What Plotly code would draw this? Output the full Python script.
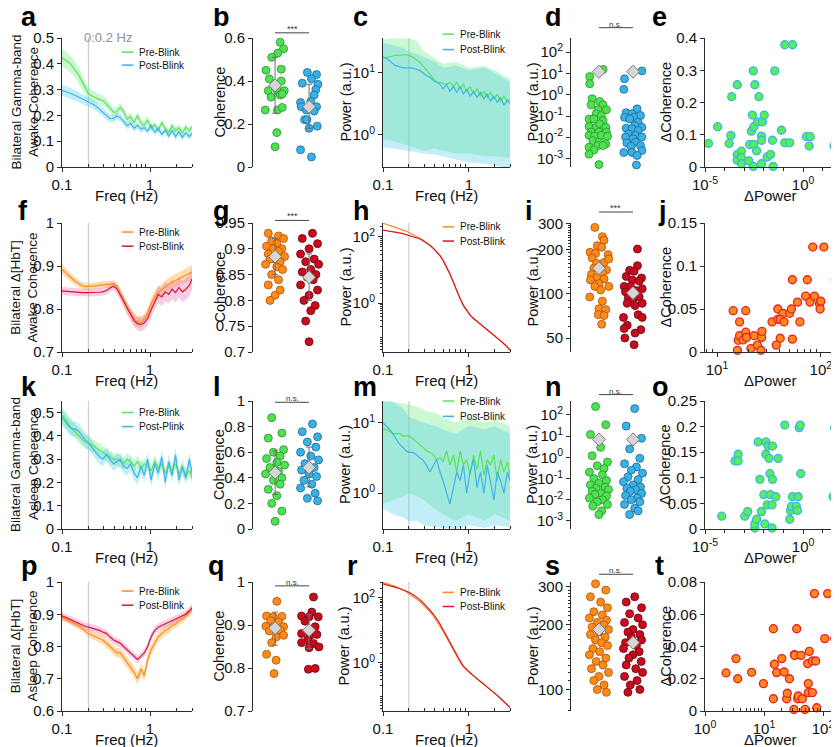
import plotly.graph_objects as go
from plotly.subplots import make_subplots

W, H = 839, 747          # browser window
PAD = 8                  # default page margin around the plot div
FW, FH = W - PAD, H - PAD
FONT = "Liberation Sans, Arial, Helvetica, sans-serif"
INK = "#2b2b2b"

# ---------------- data ----------------
freq = [0.100, 0.110, 0.120, 0.130, 0.140, 0.155, 0.170, 0.185, 0.200, 0.220,
        0.240, 0.265, 0.290, 0.320, 0.350, 0.385, 0.420, 0.460, 0.500, 0.550,
        0.600, 0.660, 0.720, 0.790, 0.860, 0.940, 1.03, 1.13, 1.24, 1.36,
        1.49, 1.63, 1.78, 1.95, 2.13, 2.33, 2.55, 2.80, 3.00]
band_freq = [0.1, 0.13, 0.17, 0.2, 0.25, 0.3, 0.4, 0.5, 0.7, 1.0, 1.5, 2.0, 3.0]
blink_f = 0.2

# a: gamma-band awake coherence
a_pre = [0.423, 0.415, 0.405, 0.392, 0.378, 0.356, 0.330, 0.305, 0.285, 0.275,
         0.268, 0.262, 0.258, 0.245, 0.228, 0.212, 0.214, 0.232, 0.215, 0.185,
         0.195, 0.172, 0.200, 0.170, 0.162, 0.182, 0.150, 0.163, 0.142, 0.172,
         0.150, 0.135, 0.160, 0.140, 0.152, 0.132, 0.155, 0.140, 0.155]
a_pre_err = [0.035, 0.034, 0.033, 0.032, 0.031, 0.030, 0.028, 0.026, 0.025, 0.024,
             0.022, 0.020, 0.020, 0.019, 0.018, 0.018, 0.018, 0.017, 0.017, 0.016,
             0.016, 0.016, 0.015, 0.015, 0.015, 0.015, 0.014, 0.014, 0.014, 0.014,
             0.014, 0.013, 0.013, 0.013, 0.013, 0.013, 0.013, 0.013, 0.013]
a_post = [0.297, 0.293, 0.288, 0.283, 0.278, 0.271, 0.265, 0.259, 0.253, 0.245,
          0.237, 0.225, 0.212, 0.200, 0.188, 0.188, 0.197, 0.192, 0.176, 0.160,
          0.170, 0.150, 0.162, 0.146, 0.152, 0.140, 0.160, 0.135, 0.150, 0.126,
          0.142, 0.120, 0.142, 0.118, 0.136, 0.115, 0.132, 0.118, 0.130]
a_post_err = [0.022, 0.022, 0.021, 0.021, 0.020, 0.020, 0.020, 0.019, 0.019, 0.018,
              0.018, 0.017, 0.017, 0.016, 0.016, 0.015, 0.015, 0.015, 0.015, 0.014,
              0.014, 0.014, 0.014, 0.014, 0.013, 0.013, 0.013, 0.013, 0.013, 0.013,
              0.013, 0.013, 0.013, 0.013, 0.013, 0.013, 0.013, 0.013, 0.013]

# b: gamma-band awake coherence per animal
b_pre = [0.58, 0.55, 0.53, 0.51, 0.45, 0.455, 0.41, 0.40, 0.355, 0.355,
         0.355, 0.325, 0.335, 0.34, 0.265, 0.265, 0.277, 0.16, 0.094]
b_pre_dx = [0.15, 0.25, 0.08, -0.10, -0.27, 0.18, -0.17, 0.18, -0.20, 0.07,
            0.27, -0.12, 0.15, 0.21, -0.29, 0.07, 0.21, 0.05, 0.0]
b_post = [0.44, 0.43, 0.41, 0.39, 0.385, 0.36, 0.335, 0.30, 0.305, 0.28,
          0.28, 0.265, 0.26, 0.22, 0.22, 0.18, 0.19, 0.08, 0.047]
b_post_dx = [-0.05, 0.22, 0.07, -0.20, 0.26, 0.20, 0.15, -0.25, 0.05, -0.23,
             0.22, -0.08, 0.15, -0.13, -0.06, 0.0, 0.24, -0.25, 0.07]
b_mean = [0.38, 0.28]
b_sd_lo = [0.25, 0.18]
b_sd_hi = [0.51, 0.385]

# c: gamma-band awake power
c_pre = [17, 17.5, 18, 18.5, 19, 19, 19.5, 19.5, 19, 18,
         16.5, 15, 13, 11, 9.5, 8, 7, 7, 6.8, 6.5,
         7, 6, 7, 5.5, 6.5, 5, 6, 4.5, 5.5, 4.2,
         5, 4, 4.8, 3.8, 4.5, 3.5, 4.2, 3.4, 3.8]
c_post = [18, 17, 15.5, 14, 13, 12.5, 12, 12, 12, 12,
          11.5, 11, 10, 9, 8.5, 7.5, 7, 6.5, 5.5, 6.5,
          5, 6, 4.8, 6, 4.5, 5.5, 4.2, 5, 4, 4.8,
          3.8, 4.5, 3.5, 4.2, 3.3, 4, 3, 3.6, 3.2]
c_pre_hi = [34, 36, 36, 36, 32, 22, 17, 14, 15, 12, 13, 11, 8]
c_pre_lo = [0.85, 0.8, 0.72, 0.67, 0.6, 0.55, 0.6, 0.55, 0.5, 0.5, 0.45, 0.45, 0.42]
c_post_hi = [30, 28, 25, 22, 20, 18, 15, 12, 13, 11, 12, 10, 7]
c_post_lo = [0.63, 0.6, 0.58, 0.55, 0.52, 0.5, 0.48, 0.45, 0.4, 0.36, 0.34, 0.32, 0.28]

# d: gamma-band awake power per animal
d_pre = [500, 15.5, 7.2, 3.3, 0.65, 0.49, 0.34, 0.34, 0.2, 0.2,
         0.13, 0.107, 0.074, 0.074, 0.063, 0.033, 0.030, 0.044, 0.030, 0.018,
         0.018, 0.018, 0.0126, 0.0115, 0.0126, 0.0115, 0.0072, 0.006, 0.005, 0.0042,
         0.0035, 0.0042, 0.0026, 0.00166, 0.00054]
d_pre_dx = [-0.27, 0.12, -0.27, -0.27, -0.20, 0.02, -0.23, 0.12, 0.22, -0.03,
            -0.08, 0.07, -0.29, -0.15, 0.12, -0.29, -0.08, 0.02, 0.20, -0.23,
            0.0, 0.22, -0.29, -0.13, 0.07, 0.25, -0.18, 0.0, 0.20, -0.03,
            -0.29, 0.12, -0.15, -0.29, 0.0]
d_post = [470, 13.2, 5.6, 1.8, 0.22, 0.145, 0.13, 0.107, 0.089, 0.089,
          0.074, 0.052, 0.036, 0.0275, 0.030, 0.0257, 0.0214, 0.0148, 0.0126, 0.0105,
          0.0105, 0.0087, 0.0056, 0.006, 0.0039, 0.0042, 0.002, 0.002, 0.00245, 0.00145,
          0.00052]
d_post_dx = [0.10, 0.26, -0.25, -0.27, 0.12, -0.20, -0.03, 0.22, -0.25, 0.02,
             -0.10, 0.15, 0.05, -0.20, 0.26, -0.03, 0.15, -0.13, 0.07, 0.26,
             -0.22, 0.0, -0.18, 0.07, -0.06, 0.22, -0.27, -0.03, 0.26, 0.12,
             0.10]
d_mean = [12, 12]

# e: delta coherence vs delta power (gamma, awake)
e_dpow = [1.5e-5, 4.4e-5, 2.1e-4, 1.7e-4, 2.3e-4, 4.4e-4, 4.4e-4, 7.2e-4, 7.2e-4, 7.2e-4,
          4.4e-4, 1.7e-3, 1.9e-3, 2.3e-3, 2.9e-3, 2.6e-3, 3.1e-3, 3.1e-3, 2.9e-3, 3.5e-3,
          4.3e-3, 4.8e-3, 5.6e-3, 7.6e-3, 7.6e-3, 8.5e-3, 0.0105, 7.6e-3, 0.0148, 0.022,
          0.0275, 0.0295, 0.036, 0.079, 0.117, 0.117, 0.29, 0.21, 1.48, 2.04,
          2.34, 38]
e_dcoh = [0.073, 0.125, 0.098, 0.073, 0.218, 0.039, 0.021, 0.049, 0.029, 0.010,
          0.255, 0.019, 0.070, 0.111, 0.298, 0.161, 0.125, 0.070, 0.002, 0.255,
          0.050, 0.140, 0.218, 0.096, 0.083, 0.140, 0.161, 0.010, 0.031, 0.039,
          0.083, 0.002, 0.298, 0.114, 0.075, 0.379, 0.379, 0.075, 0.094, 0.065,
          0.094, 0.065]

# f: HbT awake coherence
f_pre = [0.892, 0.885, 0.878, 0.871, 0.865, 0.859, 0.854, 0.852, 0.852, 0.853,
         0.854, 0.855, 0.856, 0.857, 0.858, 0.859, 0.853, 0.838, 0.822, 0.802,
         0.790, 0.777, 0.770, 0.770, 0.776, 0.790, 0.812, 0.828, 0.838, 0.846,
         0.852, 0.858, 0.862, 0.866, 0.870, 0.874, 0.878, 0.882, 0.886]
f_pre_err = [0.012, 0.011, 0.010, 0.010, 0.009, 0.009, 0.008, 0.008, 0.008, 0.008,
             0.008, 0.008, 0.008, 0.008, 0.008, 0.008, 0.009, 0.010, 0.011, 0.012,
             0.012, 0.013, 0.013, 0.013, 0.013, 0.013, 0.013, 0.014, 0.014, 0.014,
             0.014, 0.015, 0.015, 0.015, 0.016, 0.016, 0.016, 0.017, 0.017]
f_post = [0.842, 0.841, 0.840, 0.840, 0.839, 0.839, 0.838, 0.838, 0.838, 0.838,
          0.838, 0.839, 0.840, 0.843, 0.849, 0.853, 0.847, 0.832, 0.816, 0.800,
          0.786, 0.773, 0.766, 0.764, 0.768, 0.778, 0.798, 0.818, 0.834, 0.828,
          0.840, 0.834, 0.846, 0.838, 0.850, 0.840, 0.846, 0.855, 0.870]
f_post_err = [0.009, 0.009, 0.009, 0.009, 0.009, 0.009, 0.009, 0.009, 0.009, 0.009,
              0.009, 0.009, 0.009, 0.010, 0.010, 0.010, 0.011, 0.012, 0.013, 0.014,
              0.015, 0.015, 0.016, 0.016, 0.016, 0.017, 0.018, 0.019, 0.020, 0.021,
              0.022, 0.022, 0.023, 0.023, 0.024, 0.024, 0.025, 0.025, 0.025]

# g: HbT awake coherence per animal
g_pre = [0.93, 0.925, 0.92, 0.915, 0.91, 0.905, 0.90, 0.90, 0.895, 0.89,
         0.885, 0.88, 0.88, 0.875, 0.87, 0.865, 0.86, 0.85, 0.84, 0.83,
         0.82, 0.81, 0.80]
g_pre_dx = [-0.20, 0.10, 0.25, -0.10, 0.05, -0.25, 0.20, -0.05, 0.10, -0.20,
            0.28, 0.0, -0.15, 0.15, -0.28, 0.05, 0.22, -0.10, 0.10, -0.20,
            0.15, 0.0, -0.15]
g_post = [0.93, 0.92, 0.91, 0.90, 0.89, 0.88, 0.875, 0.87, 0.86, 0.855,
          0.85, 0.845, 0.84, 0.83, 0.82, 0.81, 0.80, 0.79, 0.78, 0.76, 0.72]
g_post_dx = [0.10, -0.20, 0.25, 0.0, -0.25, 0.15, -0.10, 0.28, 0.05, -0.20,
             0.20, -0.05, 0.12, -0.25, 0.25, 0.0, -0.15, 0.18, 0.05, -0.10, 0.0]
g_mean = [0.885, 0.845]
g_sd_lo = [0.85, 0.80]
g_sd_hi = [0.92, 0.89]

# h: HbT awake power
h_pre = [260, 240, 220, 205, 192, 178, 165, 150, 135, 120,
         105, 92, 80, 68, 56, 45, 35, 27, 19.5, 12.5,
         7.5, 4.2, 2.3, 1.35, 0.85, 0.6, 0.43, 0.34, 0.28, 0.23,
         0.19, 0.16, 0.135, 0.11, 0.09, 0.075, 0.06, 0.048, 0.04]
h_post = [160, 155, 150, 145, 140, 133, 125, 117, 110, 103,
          96, 88, 78, 67, 56, 45, 35, 27, 19.5, 12.5,
          7.5, 4.2, 2.3, 1.35, 0.85, 0.6, 0.43, 0.34, 0.28, 0.23,
          0.19, 0.16, 0.13, 0.105, 0.087, 0.072, 0.058, 0.046, 0.038]

# i: HbT awake power per animal
i_pre = [282, 244, 231, 212, 191, 188, 184, 207, 175, 163,
         172, 161, 150, 149, 145, 135, 138, 129, 124, 126,
         117, 112, 112, 106, 95, 89, 79, 78, 72, 71, 62]
i_pre_dx = [-0.12, 0.10, 0.15, -0.05, -0.26, -0.10, 0.27, 0.08, -0.20, 0.15,
            0.29, -0.07, 0.02, -0.15, 0.22, -0.22, 0.10, -0.07, -0.25, 0.15,
            0.0, 0.29, -0.12, 0.05, -0.27, 0.10, 0.0, 0.20, -0.02, 0.15, 0.08]
i_post = [201, 155, 144, 142, 131, 128, 124, 122, 112, 112,
          108, 105, 103, 94, 95, 92, 86, 83, 86, 72,
          69, 69, 61, 58, 57, 54, 50, 45, 40]
i_post_dx = [0.13, 0.13, -0.10, 0.03, -0.20, 0.25, -0.02, 0.18, -0.26, -0.07,
             0.27, 0.08, -0.22, -0.14, 0.18, 0.0, -0.17, 0.06, 0.27, 0.15,
             -0.28, 0.27, -0.17, -0.26, 0.23, 0.06, -0.24, 0.03, 0.13]
i_mean = [149, 101]

# j: delta coherence vs delta power (HbT, awake)
j_dpow = [7.6, 14.3, 18.9, 16.5, 16.0, 15.7, 16.5, 17.8, 18.9, 19.2,
          21.2, 22.8, 24.5, 26.9, 27.1, 26.5, 33.9, 37.2, 38.5, 38.5,
          40.6, 43.2, 40.6, 44.2, 50.1, 52.1, 53.2, 53.2, 59.6, 62.8,
          71.3, 74.1, 78.7, 83.6, 86.7, 97, 100, 98.4, 107, 138]
j_dcoh = [0.0047, 0.048, 0.048, 0.035, 0.0136, 0.002, 0.019, 0.014, 0.023, 0.017,
          0.004, 0.019, 0.008, 0.017, 0.024, 0.002, 0.035, 0.008, 0.038, 0.050,
          0.016, 0.045, 0.038, 0.035, 0.045, 0.050, 0.084, 0.015, 0.058, 0.035,
          0.065, 0.084, 0.058, 0.122, 0.065, 0.056, 0.059, 0.050, 0.122, 0.084]

# k: gamma-band asleep coherence
k_pre = [0.49, 0.47, 0.45, 0.43, 0.42, 0.40, 0.385, 0.375, 0.37, 0.36,
         0.35, 0.34, 0.33, 0.32, 0.31, 0.30, 0.30, 0.29, 0.28, 0.30,
         0.29, 0.27, 0.29, 0.26, 0.28, 0.27, 0.25, 0.29, 0.26, 0.28,
         0.24, 0.27, 0.25, 0.28, 0.24, 0.26, 0.23, 0.25, 0.22]
k_pre_err = [0.035, 0.034, 0.033, 0.032, 0.031, 0.030, 0.030, 0.029, 0.029, 0.028,
             0.028, 0.027, 0.027, 0.027, 0.026, 0.026, 0.026, 0.026, 0.025, 0.025,
             0.025, 0.025, 0.025, 0.025, 0.025, 0.025, 0.025, 0.025, 0.025, 0.025,
             0.025, 0.025, 0.025, 0.025, 0.025, 0.025, 0.025, 0.025, 0.025]
k_post = [0.48, 0.46, 0.44, 0.43, 0.43, 0.42, 0.40, 0.38, 0.37, 0.35,
          0.33, 0.31, 0.30, 0.32, 0.30, 0.28, 0.29, 0.30, 0.27, 0.26,
          0.28, 0.24, 0.22, 0.27, 0.23, 0.30, 0.21, 0.28, 0.24, 0.31,
          0.20, 0.29, 0.23, 0.32, 0.21, 0.27, 0.22, 0.30, 0.24]
k_post_err = [0.035, 0.034, 0.033, 0.033, 0.032, 0.032, 0.031, 0.031, 0.030, 0.030,
              0.030, 0.030, 0.030, 0.030, 0.030, 0.030, 0.030, 0.030, 0.030, 0.030,
              0.030, 0.030, 0.030, 0.030, 0.030, 0.030, 0.030, 0.030, 0.030, 0.030,
              0.030, 0.030, 0.030, 0.030, 0.030, 0.030, 0.030, 0.030, 0.030]

# l: gamma-band asleep coherence per animal
l_pre = [0.87, 0.75, 0.71, 0.62, 0.60, 0.57, 0.55, 0.52, 0.50, 0.48,
         0.45, 0.43, 0.40, 0.38, 0.35, 0.31, 0.26, 0.20, 0.14, 0.06]
l_pre_dx = [-0.10, 0.20, -0.20, 0.25, -0.05, 0.15, -0.25, 0.05, 0.28, -0.15,
            0.10, -0.28, 0.20, -0.05, 0.15, -0.20, 0.05, -0.10, 0.20, 0.0]
l_post = [0.82, 0.76, 0.72, 0.68, 0.64, 0.60, 0.57, 0.54, 0.51, 0.48,
          0.46, 0.43, 0.41, 0.38, 0.35, 0.32, 0.28, 0.24, 0.22]
l_post_dx = [0.10, -0.20, 0.25, -0.05, 0.20, -0.25, 0.05, 0.28, -0.12, 0.15,
             -0.22, 0.0, 0.22, -0.15, 0.08, -0.25, 0.18, -0.05, 0.25]
l_mean = [0.44, 0.48]
l_sd_lo = [0.27, 0.33]
l_sd_hi = [0.61, 0.64]

# m: gamma-band asleep power
m_pre = [8, 8, 7.5, 7, 7, 7, 6.5, 6.5, 6.5, 6,
         5.5, 5, 4.5, 4, 3.8, 3.5, 3, 3.2, 2.8, 4,
         2.5, 3.5, 2, 4, 2.5, 3, 1.8, 3.5, 2.2, 4,
         1.8, 3, 2.5, 3.5, 1.5, 3, 2, 2.8, 1.8]
m_post = [10, 9, 8, 7, 6, 5, 4.5, 4, 3.8, 3.8,
          3.6, 3.2, 3, 2.5, 2, 2.5, 3, 2, 1.5, 1,
          0.7, 1.2, 2, 1.5, 2.5, 1, 2, 3, 1.2, 2,
          1, 2.5, 1.5, 0.8, 2, 1.5, 1, 2, 1.5]
m_pre_hi = [20, 20, 19, 18, 17, 15, 14, 12, 10, 12, 10, 11, 9]
m_pre_lo = [0.7, 0.8, 0.9, 1.0, 0.9, 0.8, 0.6, 0.5, 0.4, 0.5, 0.4, 0.5, 0.4]
m_post_hi = [22, 20, 16, 12, 11, 10, 9, 8, 7, 9, 8, 9, 7]
m_post_lo = [0.6, 0.5, 0.45, 0.4, 0.4, 0.35, 0.33, 0.32, 0.31, 0.35, 0.32, 0.35, 0.33]

# n: gamma-band asleep power per animal
n_pre = [250, 35, 12, 3, 1.2, 0.6, 0.4, 0.3, 0.2, 0.15,
         0.1, 0.08, 0.06, 0.05, 0.04, 0.035, 0.03, 0.025, 0.02, 0.018,
         0.015, 0.012, 0.01, 0.008, 0.006, 0.005, 0.003, 0.002]
n_pre_dx = [-0.10, 0.20, -0.25, 0.05, -0.20, 0.25, -0.05, 0.15, -0.28, 0.10,
            -0.15, 0.22, 0.0, -0.25, 0.18, -0.08, 0.28, -0.20, 0.05, -0.12,
            0.22, -0.28, 0.10, -0.05, 0.25, -0.18, 0.08, 0.0]
n_post = [200, 30, 8, 2.5, 0.9, 0.5, 0.35, 0.25, 0.18, 0.12,
          0.09, 0.07, 0.05, 0.04, 0.035, 0.03, 0.025, 0.02, 0.016, 0.012,
          0.01, 0.008, 0.006, 0.004, 0.003, 0.002]
n_post_dx = [0.05, -0.20, 0.25, -0.10, 0.20, -0.25, 0.10, -0.05, 0.28, -0.15,
             0.15, -0.28, 0.0, 0.22, -0.18, 0.08, -0.08, 0.25, -0.22, 0.12,
             -0.05, 0.20, -0.25, 0.05, 0.15, -0.10]
n_mean = [7.0, 7.0]

# o: delta coherence vs delta power (gamma, asleep)
o_dpow = [7.1e-5, 3.4e-4, 4.9e-4, 4.9e-4, 1.07e-3, 1.5e-3, 3.5e-3, 3.5e-3, 4.3e-3, 5.1e-3,
          6.3e-3, 7.6e-3, 0.010, 0.0112, 0.0126, 0.0126, 0.0148, 0.0166, 0.0186, 0.0204,
          0.0219, 0.0263, 0.0275, 0.0275, 0.0263, 0.041, 0.054, 0.117, 0.209, 0.229,
          0.257, 0.288, 0.457, 0.513, 0.562, 0.63, 0.72, 0.76, 34, 41]
o_dcoh = [0.025, 0.133, 0.146, 0.133, 0.025, 0.034, 0.002, 0.010, 0.019, 0.170,
          0.097, 0.034, 0.067, 0.010, 0.170, 0.146, 0.047, 0.162, 0.138, 0.108,
          0.067, 0.047, 0.162, 0.097, 0.002, 0.063, 0.138, 0.203, 0.019, 0.036,
          0.044, 0.063, 0.044, 0.036, 0.063, 0.198, 0.203, 0.108, 0.063, 0.198]

# p: HbT asleep coherence
p_pre = [0.890, 0.885, 0.880, 0.875, 0.870, 0.865, 0.855, 0.848, 0.840, 0.835,
         0.830, 0.825, 0.820, 0.810, 0.800, 0.790, 0.780, 0.780, 0.765, 0.750,
         0.735, 0.720, 0.700, 0.730, 0.710, 0.760, 0.790, 0.810, 0.830, 0.840,
         0.850, 0.855, 0.865, 0.870, 0.880, 0.885, 0.895, 0.905, 0.915]
p_pre_err = [0.010, 0.010, 0.010, 0.010, 0.010, 0.010, 0.010, 0.011, 0.011, 0.012,
             0.012, 0.013, 0.013, 0.014, 0.014, 0.015, 0.015, 0.016, 0.016, 0.017,
             0.017, 0.018, 0.018, 0.018, 0.018, 0.018, 0.017, 0.016, 0.015, 0.015,
             0.014, 0.014, 0.013, 0.013, 0.013, 0.012, 0.012, 0.012, 0.012]
p_post = [0.895, 0.890, 0.885, 0.880, 0.875, 0.870, 0.865, 0.862, 0.860, 0.857,
          0.855, 0.850, 0.845, 0.840, 0.830, 0.820, 0.815, 0.810, 0.800, 0.790,
          0.780, 0.770, 0.760, 0.770, 0.780, 0.800, 0.830, 0.850, 0.860, 0.865,
          0.870, 0.875, 0.880, 0.885, 0.890, 0.895, 0.900, 0.910, 0.920]
p_post_err = [0.012] * 39

# q: HbT asleep coherence per animal
q_pre = [0.955, 0.921, 0.919, 0.92, 0.91, 0.907, 0.897, 0.896, 0.896, 0.886,
         0.888, 0.872, 0.859, 0.876, 0.832, 0.818, 0.787]
q_pre_dx = [0.05, -0.25, -0.05, 0.20, -0.13, 0.10, -0.27, -0.03, 0.25, -0.17,
            0.15, 0.03, -0.10, 0.25, -0.25, 0.03, -0.03]
q_post = [0.965, 0.921, 0.93, 0.919, 0.919, 0.909, 0.896, 0.88, 0.876, 0.878,
          0.865, 0.859, 0.857, 0.849, 0.847, 0.797, 0.799]
q_post_dx = [0.13, -0.22, 0.08, 0.0, 0.27, -0.12, 0.18, -0.22, 0.03, 0.23,
             -0.04, -0.22, 0.13, 0.29, 0.0, -0.02, 0.18]
q_mean = [0.893, 0.888]
q_sd_lo = [0.853, 0.845]
q_sd_hi = [0.930, 0.925]

# r: HbT asleep power
r_pre = [300, 280, 260, 240, 222, 200, 180, 160, 135, 115,
         97, 80, 64, 50, 38, 28, 20, 14, 9.5, 6,
         3.8, 2.5, 1.6, 1.05, 0.75, 0.6, 0.5, 0.4, 0.32, 0.27,
         0.22, 0.18, 0.15, 0.125, 0.1, 0.08, 0.065, 0.052, 0.043]
r_post = [270, 255, 240, 225, 210, 195, 180, 165, 150, 130,
          112, 92, 73, 57, 43, 32, 23, 16, 10.5, 6.5,
          4.2, 2.8, 1.8, 1.15, 0.8, 0.62, 0.5, 0.4, 0.32, 0.27,
          0.22, 0.18, 0.15, 0.122, 0.1, 0.08, 0.063, 0.05, 0.042]

# s: HbT asleep power per animal
s_pre = [310, 290, 270, 255, 240, 230, 222, 215, 210, 205,
         200, 195, 190, 185, 180, 175, 170, 165, 160, 155,
         150, 145, 140, 135, 130, 125, 120, 115, 110, 105, 100, 97]
s_pre_dx = [-0.10, 0.20, -0.25, 0.05, 0.25, -0.15, 0.10, -0.28, 0.22, -0.05,
            0.15, -0.20, 0.28, 0.0, -0.25, 0.18, -0.10, 0.08, 0.25, -0.18,
            0.02, -0.28, 0.20, -0.08, 0.12, -0.22, 0.28, 0.0, -0.15, 0.15, -0.05, 0.22]
s_post = [270, 255, 240, 225, 215, 205, 200, 190, 185, 180,
          175, 170, 165, 160, 155, 150, 145, 140, 135, 130,
          125, 120, 115, 110, 105, 100, 97]
s_post_dx = [0.05, -0.20, 0.25, -0.10, 0.15, -0.25, 0.28, 0.0, -0.15, 0.20,
             -0.05, 0.25, -0.22, 0.10, -0.28, 0.18, 0.0, -0.12, 0.24, -0.20,
             0.08, 0.28, -0.25, 0.12, -0.08, 0.20, -0.15]
s_mean = [190, 165]

# t: delta coherence vs delta power (HbT, asleep)
t_dpow = [2.27, 3.35, 3.58, 6.17, 9.77, 14.4, 14.4, 15.0, 16.4, 20.0,
          21.9, 24.2, 24.8, 26.9, 32.2, 32.7, 33.1, 35.8, 37.2, 38.0,
          42.4, 44.7, 49.5, 55.0, 56.2, 56.2, 58.6, 66.0, 66.0, 71.3,
          75.2, 78.2, 107, 120, 158]
t_dcoh = [0.0236, 0.0325, 0.020, 0.024, 0.017, 0.051, 0.0076, 0.029, 0.0238, 0.0325,
          0.0242, 0.0076, 0.011, 0.020, 0.001, 0.035, 0.0345, 0.051, 0.0076, 0.0093,
          0.0345, 0.0076, 0.001, 0.0294, 0.0114, 0.017, 0.037, 0.031, 0.0114, 0.0728,
          0.031, 0.002, 0.0449, 0.0728, 0.0449]

# ---------------- styling ----------------
GREEN_LINE, BLUE_LINE = "#58e458", "#3fb3ea"
ORANGE_LINE, RED_LINE = "#ff8a1c", "#d8162c"
GREEN_BAND = "rgba(105,232,125,0.35)"
BLUE_BAND = "rgba(80,205,235,0.35)"
ORANGE_BAND = "rgba(255,170,60,0.40)"
PINK_BAND = "rgba(225,85,175,0.30)"
GREEN_DOT, GREEN_EDGE = "#4ee24e", "#2c8f38"
BLUE_DOT, BLUE_EDGE = "#3ab0e4", "#1d6b96"
ORANGE_DOT, ORANGE_EDGE = "#ff8a1c", "#a85400"
RED_DOT, RED_EDGE = "#c80c1e", "#6a0410"

# panel frames in window pixels
COLS = [(62, 192), (253, 323), (383, 510), (571, 647), (705, 836)]
ROWS = [(38, 167), (223, 352), (401, 529), (582, 711)]


def pxx(p):
    return (p - PAD) / FW


def pxy(p):
    return 1 - (p - PAD) / FH


fig = make_subplots(rows=4, cols=5)


def sfx(r, c):
    n = (r - 1) * 5 + c
    return "" if n == 1 else str(n)


BASE = dict(showline=True, linecolor=INK, linewidth=1, ticks="outside", ticklen=4,
            tickwidth=1, tickcolor=INK, showgrid=False, zeroline=False, automargin=False,
            tickfont=dict(size=15, color="#111"))

for r in range(1, 5):
    for c in range(1, 6):
        s = sfx(r, c)
        x0, x1 = COLS[c - 1]
        y0, y1 = ROWS[r - 1]
        fig.layout["xaxis" + s].update(domain=[pxx(x0), pxx(x1)], **BASE)
        fig.layout["yaxis" + s].update(domain=[pxy(y1), pxy(y0)], **BASE)


def sup(e):
    return "10<sup>%d</sup>" % e


def log_minor(lo, hi):
    vals = []
    for e in range(lo, hi + 1):
        for k in range(2, 10):
            vals.append(k * 10 ** e)
    return vals


def xtitle(r, c, text):
    x0, x1 = COLS[c - 1]
    fig.add_annotation(xref="paper", yref="paper", x=pxx((x0 + x1) / 2), y=pxy(ROWS[r - 1][1] + 28),
                       text=text, showarrow=False, xanchor="center", yanchor="middle",
                       font=dict(size=15, color="#111"))


def ytitle(r, px, text, size=14.5):
    y0, y1 = ROWS[r - 1]
    fig.add_annotation(xref="paper", yref="paper", x=pxx(px), y=pxy((y0 + y1) / 2),
                       text=text, showarrow=False, textangle=-90, xanchor="center", yanchor="middle",
                       font=dict(size=size, color="#111"))


def freq_axis(r, c):
    fig.layout["xaxis" + sfx(r, c)].update(
        type="log", range=[-1, 0.477], tickvals=[0.1, 1], ticktext=["0.1", "1"],
        minor=dict(tickvals=[0.2, 0.3, 0.4, 0.5, 0.6, 0.7, 0.8, 0.9, 2, 3],
                   ticks="inside", ticklen=3, tickcolor=INK))
    xtitle(r, c, "Freq (Hz)")


def lin_y(r, c, rng, vals):
    fig.layout["yaxis" + sfx(r, c)].update(
        range=rng, tickvals=vals, ticktext=[("%g" % v) for v in vals])


def log_y(r, c, rng, vals, text, minor=None):
    d = dict(type="log", range=rng, tickvals=vals, ticktext=text)
    if minor:
        d["minor"] = dict(tickvals=minor, ticks="outside", ticklen=2, tickcolor=INK)
    fig.layout["yaxis" + sfx(r, c)].update(**d)


def blink_line(r, c, ylo, yhi):
    fig.add_trace(go.Scatter(x=[blink_f, blink_f], y=[ylo, yhi], mode="lines",
                             line=dict(color="#cfcfcf", width=1.3), hoverinfo="skip"),
                  row=r, col=c)


def band(r, c, x, lo, hi, color):
    fig.add_trace(go.Scatter(x=list(x) + list(x)[::-1], y=list(hi) + list(lo)[::-1],
                             fill="toself", fillcolor=color, mode="lines",
                             line=dict(width=0), hoverinfo="skip"), row=r, col=c)


def mean_band(r, c, m, e, color):
    band(r, c, freq, [a - b for a, b in zip(m, e)], [a + b for a, b in zip(m, e)], color)


def line(r, c, y, color, width=1.2):
    fig.add_trace(go.Scatter(x=freq, y=y, mode="lines", line=dict(color=color, width=width)),
                  row=r, col=c)


def legend(r, c, xl, ys, labels, colors):
    s = sfx(r, c)
    for yy, lab, col in zip(ys, labels, colors):
        fig.add_shape(type="line", xref="x%s domain" % s, yref="y%s domain" % s,
                      x0=xl, x1=xl + 0.09, y0=yy, y1=yy, line=dict(color=col, width=1.5))
        fig.add_annotation(xref="x%s domain" % s, yref="y%s domain" % s, x=xl + 0.12, y=yy,
                           text=lab, showarrow=False, xanchor="left", yanchor="middle",
                           font=dict(size=10, color="#111"))


def strip(r, c, groups, means, sd_lo=None, sd_hi=None):
    fig.layout["xaxis" + sfx(r, c)].update(visible=False, range=[0.35, 2.41] if c == 2 else [0.18, 2.41])
    for k, (vals, dx, fill, edge) in enumerate(groups):
        cx = k + 1
        fig.add_trace(go.Scatter(x=[cx + d for d in dx], y=vals, mode="markers", cliponaxis=False,
                                 marker=dict(size=8, color=fill, line=dict(color=edge, width=0.8))),
                      row=r, col=c)
    for k, m in enumerate(means):
        err = None
        if sd_lo is not None:
            err = dict(type="data", symmetric=False, array=[sd_hi[k] - m], arrayminus=[m - sd_lo[k]],
                       color="#6f6f6f", thickness=1, width=3)
        fig.add_trace(go.Scatter(x=[k + 1], y=[m], mode="markers", error_y=err, cliponaxis=False,
                                 marker=dict(symbol="diamond", size=10, color="#d6d6d6",
                                             line=dict(color="#7a7a7a", width=1))), row=r, col=c)


def sig(r, c, yb, text, size=9):
    s = sfx(r, c)
    fig.add_shape(type="line", xref="x" + s, yref="y%s domain" % s, x0=1, x1=2, y0=yb, y1=yb,
                  line=dict(color="#444", width=1))
    fig.add_annotation(xref="x" + s, yref="y%s domain" % s, x=1.5, y=yb, text=text,
                       showarrow=False, yanchor="bottom", yshift=-3, font=dict(size=size, color="#333"))


def dscatter(r, c, x, y, fill, edge):
    fig.add_trace(go.Scatter(x=x, y=y, mode="markers", cliponaxis=False,
                             marker=dict(size=8, color=fill, line=dict(color=edge, width=1.3))),
                  row=r, col=c)


def dpow_axis(r, rng, vals, text, minor, minor_ticks="outside"):
    fig.layout["xaxis" + sfx(r, 5)].update(type="log", range=rng, tickvals=vals, ticktext=text,
                                          minor=dict(tickvals=minor, ticks=minor_ticks,
                                                     ticklen=3, tickcolor=INK))
    xtitle(r, 5, "\u0394Power")


# ---- a ----
freq_axis(1, 1)
lin_y(1, 1, [0, 0.5], [0, 0.1, 0.2, 0.3, 0.4, 0.5])
ytitle(1, 25, "Bilateral Gamma-band<br>Awake Coherence", 13.5)
blink_line(1, 1, 0, 0.5)
mean_band(1, 1, a_pre, a_pre_err, GREEN_BAND)
mean_band(1, 1, a_post, a_post_err, BLUE_BAND)
line(1, 1, a_pre, GREEN_LINE)
line(1, 1, a_post, BLUE_LINE)
legend(1, 1, 0.46, [0.89, 0.79], ["Pre-Blink", "Post-Blink"], [GREEN_LINE, BLUE_LINE])
fig.add_annotation(xref="x domain", yref="y domain", x=0.35, y=1.08, text="0:0.2 Hz",
                   showarrow=False, font=dict(size=13, color="#8c9393"))

# ---- b ----
lin_y(1, 2, [0, 0.6], [0, 0.2, 0.4, 0.6])
ytitle(1, 219, "Coherence")
strip(1, 2, [(b_pre, b_pre_dx, GREEN_DOT, GREEN_EDGE), (b_post, b_post_dx, BLUE_DOT, BLUE_EDGE)],
      b_mean, b_sd_lo, b_sd_hi)
sig(1, 2, 1.04, "***")

# ---- c ----
freq_axis(1, 3)
log_y(1, 3, [-0.52, 1.56], [1, 10], [sup(0), sup(1)])
ytitle(1, 345, "Power (a.u.)")
blink_line(1, 3, 10 ** -0.52, 10 ** 1.56)
band(1, 3, band_freq, c_pre_lo, c_pre_hi, GREEN_BAND)
band(1, 3, band_freq, c_post_lo, c_post_hi, BLUE_BAND)
line(1, 3, c_pre, GREEN_LINE)
line(1, 3, c_post, BLUE_LINE)
legend(1, 3, 0.47, [1.03, 0.91], ["Pre-Blink", "Post-Blink"], [GREEN_LINE, BLUE_LINE])

# ---- d ----
log_y(1, 4, [-3.38, 2.66], [1e-3, 1e-2, 1e-1, 1, 10, 100], [sup(e) for e in range(-3, 3)])
ytitle(1, 532, "Power (a.u.)")
strip(1, 4, [(d_pre, d_pre_dx, GREEN_DOT, GREEN_EDGE), (d_post, d_post_dx, BLUE_DOT, BLUE_EDGE)], d_mean)
sig(1, 4, 1.08, "n.s.", 8)

# ---- e ----
dpow_axis(1, [-5, 1.68], [1e-5, 1], [sup(-5), sup(0)], [1e-4, 1e-3, 1e-2, 1e-1, 10])
lin_y(1, 5, [0, 0.4], [0, 0.1, 0.2, 0.3, 0.4])
ytitle(1, 665, "\u0394Coherence")
dscatter(1, 5, e_dpow, e_dcoh, "#58ee58", "#3cb4e6")

# ---- f ----
freq_axis(2, 1)
lin_y(2, 1, [0.7, 1.0], [0.7, 0.8, 0.9, 1.0])
ytitle(2, 24, "Bilateral \u0394[HbT]<br>Awake Coherence", 13.5)
blink_line(2, 1, 0.7, 1.0)
mean_band(2, 1, f_pre, f_pre_err, ORANGE_BAND)
mean_band(2, 1, f_post, f_post_err, PINK_BAND)
line(2, 1, f_pre, ORANGE_LINE)
line(2, 1, f_post, RED_LINE)
legend(2, 1, 0.46, [0.93, 0.82], ["Pre-Blink", "Post-Blink"], [ORANGE_LINE, RED_LINE])

# ---- g ----
lin_y(2, 2, [0.7, 0.95], [0.7, 0.75, 0.8, 0.85, 0.9, 0.95])
ytitle(2, 219, "Coherence")
strip(2, 2, [(g_pre, g_pre_dx, ORANGE_DOT, ORANGE_EDGE), (g_post, g_post_dx, RED_DOT, RED_EDGE)],
      g_mean, g_sd_lo, g_sd_hi)
sig(2, 2, 1.02, "***")

# ---- h ----
freq_axis(2, 3)
log_y(2, 3, [-1.48, 2.42], [1, 100], [sup(0), sup(2)], minor=log_minor(-2, 2))
ytitle(2, 345, "Power (a.u.)")
blink_line(2, 3, 10 ** -1.48, 10 ** 2.42)
line(2, 3, h_pre, ORANGE_LINE)
line(2, 3, h_post, RED_LINE)
legend(2, 3, 0.47, [0.97, 0.86], ["Pre-Blink", "Post-Blink"], [ORANGE_LINE, RED_LINE])

# ---- i ----
log_y(2, 4, [1.604, 2.48], [50, 100, 200, 300], ["50", "100", "200", "300"],
      minor=[40, 60, 70, 80, 90, 110, 120, 130, 140, 150, 160, 170, 180, 190, 210, 220, 230, 240,
             250, 260, 270, 280, 290])
ytitle(2, 532, "Power (a.u.)")
strip(2, 4, [(i_pre, i_pre_dx, ORANGE_DOT, ORANGE_EDGE), (i_post, i_post_dx, RED_DOT, RED_EDGE)], i_mean)
sig(2, 4, 1.085, "***")

# ---- j ----
dpow_axis(2, [0.884, 2.146], [10, 100], [sup(1), sup(2)], [8, 9, 20, 30, 40, 50, 60, 70, 80, 90], "inside")
lin_y(2, 5, [0, 0.15], [0, 0.05, 0.1, 0.15])
ytitle(2, 665, "\u0394Coherence")
dscatter(2, 5, j_dpow, j_dcoh, "#ff8a1c", "#e8202a")

# ---- k ----
freq_axis(3, 1)
lin_y(3, 1, [0, 0.55], [0, 0.1, 0.2, 0.3, 0.4, 0.5])
ytitle(3, 25, "Bilateral Gamma-band<br>Asleep Coherence", 13.5)
blink_line(3, 1, 0, 0.55)
mean_band(3, 1, k_pre, k_pre_err, GREEN_BAND)
mean_band(3, 1, k_post, k_post_err, BLUE_BAND)
line(3, 1, k_pre, GREEN_LINE)
line(3, 1, k_post, BLUE_LINE)
legend(3, 1, 0.46, [0.91, 0.80], ["Pre-Blink", "Post-Plink"], [GREEN_LINE, BLUE_LINE])

# ---- l ----
lin_y(3, 2, [0, 1], [0, 0.2, 0.4, 0.6, 0.8, 1])
ytitle(3, 219, "Coherence")
strip(3, 2, [(l_pre, l_pre_dx, GREEN_DOT, GREEN_EDGE), (l_post, l_post_dx, BLUE_DOT, BLUE_EDGE)],
      l_mean, l_sd_lo, l_sd_hi)
sig(3, 2, 0.99, "n.s.", 8)

# ---- m ----
freq_axis(3, 3)
log_y(3, 3, [-0.51, 1.31], [1, 10], [sup(0), sup(1)])
ytitle(3, 345, "Power (a.u.)")
blink_line(3, 3, 10 ** -0.51, 10 ** 1.31)
band(3, 3, band_freq, m_pre_lo, m_pre_hi, GREEN_BAND)
band(3, 3, band_freq, m_post_lo, m_post_hi, BLUE_BAND)
line(3, 3, m_pre, GREEN_LINE)
line(3, 3, m_post, BLUE_LINE)
legend(3, 3, 0.47, [1.0, 0.88], ["Pre-Blink", "Post-Blink"], [GREEN_LINE, BLUE_LINE])

# ---- n ----
log_y(3, 4, [-3.38, 2.66], [1e-3, 1e-2, 1e-1, 1, 10, 100], [sup(e) for e in range(-3, 3)])
ytitle(3, 532, "Power (a.u.)")
strip(3, 4, [(n_pre, n_pre_dx, GREEN_DOT, GREEN_EDGE), (n_post, n_post_dx, BLUE_DOT, BLUE_EDGE)], n_mean)
sig(3, 4, 1.05, "n.s.", 8)

# ---- o ----
dpow_axis(3, [-5, 1.68], [1e-5, 1], [sup(-5), sup(0)], [1e-4, 1e-3, 1e-2, 1e-1, 10])
lin_y(3, 5, [0, 0.25], [0, 0.05, 0.1, 0.15, 0.2, 0.25])
ytitle(3, 665, "\u0394Coherence")
dscatter(3, 5, o_dpow, o_dcoh, "#58ee58", "#3cb4e6")

# ---- p ----
freq_axis(4, 1)
lin_y(4, 1, [0.6, 1.0], [0.6, 0.7, 0.8, 0.9, 1.0])
ytitle(4, 24, "Bilateral \u0394[HbT]<br>Asleep Coherence", 13.5)
blink_line(4, 1, 0.6, 1.0)
mean_band(4, 1, p_pre, p_pre_err, ORANGE_BAND)
mean_band(4, 1, p_post, p_post_err, PINK_BAND)
line(4, 1, p_pre, ORANGE_LINE)
line(4, 1, p_post, RED_LINE)
legend(4, 1, 0.46, [0.93, 0.82], ["Pre-Blink", "Post-Blink"], [ORANGE_LINE, RED_LINE])

# ---- q ----
lin_y(4, 2, [0.7, 1.0], [0.7, 0.8, 0.9, 1.0])
ytitle(4, 218, "Coherence")
strip(4, 2, [(q_pre, q_pre_dx, ORANGE_DOT, ORANGE_EDGE), (q_post, q_post_dx, RED_DOT, RED_EDGE)],
      q_mean, q_sd_lo, q_sd_hi)
sig(4, 2, 0.97, "n.s.", 8)

# ---- r ----
freq_axis(4, 3)
log_y(4, 3, [-1.48, 2.49], [1, 100], [sup(0), sup(2)], minor=log_minor(-2, 2))
ytitle(4, 343, "Power (a.u.)")
blink_line(4, 3, 10 ** -1.48, 10 ** 2.49)
line(4, 3, r_pre, ORANGE_LINE)
line(4, 3, r_post, RED_LINE)
legend(4, 3, 0.47, [0.92, 0.81], ["Pre-Blink", "Post-Blink"], [ORANGE_LINE, RED_LINE])

# ---- s ----
log_y(4, 4, [1.90, 2.50], [100, 200, 300], ["100", "200", "300"],
      minor=[80, 90, 110, 120, 130, 140, 150, 160, 170, 180, 190, 210, 220, 230, 240, 250, 260,
             270, 280, 290])
ytitle(4, 532, "Power (a.u.)")
strip(4, 4, [(s_pre, s_pre_dx, ORANGE_DOT, ORANGE_EDGE), (s_post, s_post_dx, RED_DOT, RED_EDGE)], s_mean)
sig(4, 4, 1.06, "n.s.", 8)

# ---- t ----
dpow_axis(4, [0, 2.22], [1, 10, 100], [sup(0), sup(1), sup(2)], log_minor(0, 1) + [200], "inside")
lin_y(4, 5, [0, 0.08], [0, 0.02, 0.04, 0.06, 0.08])
ytitle(4, 665, "\u0394Coherence")
dscatter(4, 5, t_dpow, t_dcoh, "#ff8a1c", "#e8202a")

# ---- panel letters ----
letters = [("a", 19, 0), ("b", 211, 0), ("c", 351, 0), ("d", 543, 0), ("e", 650, 0),
           ("f", 16, 194), ("g", 211, 194), ("h", 351, 194), ("i", 523, 194), ("j", 656, 194),
           ("k", 19, 370), ("l", 211, 370), ("m", 351, 370), ("n", 543, 370), ("o", 650, 370),
           ("p", 19, 549), ("q", 206, 549), ("r", 345, 549), ("s", 543, 549), ("t", 653, 549)]
for ch, px, py in letters:
    fig.add_annotation(xref="paper", yref="paper", x=pxx(px), y=pxy(py), text="<b>%s</b>" % ch,
                       showarrow=False, xanchor="left", yanchor="top",
                       font=dict(size=27, color="#000", family="Liberation Sans, Arial"))

fig.update_layout(template="none", width=FW, height=FH, margin=dict(l=0, r=0, t=0, b=0),
                  showlegend=False, paper_bgcolor="white", plot_bgcolor="white",
                  font=dict(family=FONT, color="#111"))

fig.write_html("out.html")
